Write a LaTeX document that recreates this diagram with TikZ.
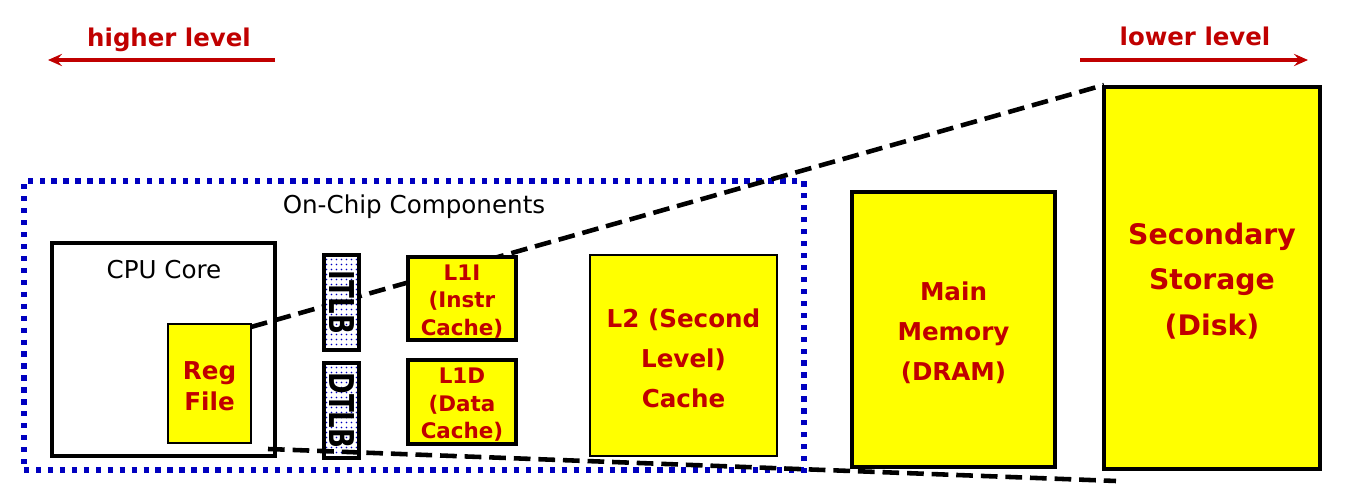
\documentclass[tikz,border=0pt]{standalone}
\usepackage{fontspec}
\setmainfont{DejaVu Sans}
\usetikzlibrary{patterns.meta,arrows.meta}
\definecolor{dkred}{HTML}{C00000}
\definecolor{chipblue}{HTML}{0000C0}
\definecolor{boxyellow}{HTML}{FFFF00}
\tikzdeclarepattern{
  name=tlbdots,
  type=uncolored,
  bounding box={(0pt,0pt) and (2.8pt,2.8pt)},
  tile size={(2.8pt,2.8pt)},
  code={\fill (1.4pt,1.4pt) circle[radius=0.5pt];}
}
\begin{document}
\begin{tikzpicture}[x=0.02cm,y=-0.02cm,
  chipbox/.style={draw=chipblue, line width=3pt, dash pattern=on 3pt off 3.8pt, inner sep=0pt},
  plainbox/.style={draw=black, line width=2.2pt, inner sep=0pt},
  ybox/.style={draw=black, fill=boxyellow, inner sep=0pt},
  ytext/.style={align=center, text=dkred, inner sep=0pt, yshift=-1.7pt},
  tlbbox/.style={draw=black, line width=2.4pt, inner sep=0pt, preaction={fill=white}, pattern=tlbdots, pattern color=chipblue},
  tlbtext/.style={rotate=-90, font=\fontsize{19.5pt}{19.5pt}\selectfont\bfseries},
  lbl/.style={font=\fontsize{14pt}{17pt}\selectfont},
  lvl/.style={text=dkred, anchor=base, font=\fontsize{13.9pt}{17pt}\selectfont\bfseries},
  lvlarrow/.style={draw=dkred, line width=2.1pt, -{Stealth[length=8pt,width=7pt,inset=3pt]}},
  zoomline/.style={draw=black, line width=2.6pt, dash pattern=on 9.5pt off 4.5pt}
]
\useasboundingbox (0,0) rectangle (1348,489);

% level indicators
\node[lvl] (hl) at (169,47) {higher level};
\node[lvl] (ll) at (1195,46) {lower level};
\coordinate (hlA) at (275,60);
\coordinate (hlB) at (48,60);
\coordinate (llA) at (1080,60);
\coordinate (llB) at (1308,60);
\draw[lvlarrow] (hlA) -- (hlB);
\draw[lvlarrow] (llA) -- (llB);

% on-chip region
\node[chipbox, minimum width=15.6cm, minimum height=5.78cm] (chip) at (414,325.5) {};
\node[lbl] (chiplabel) at (414,207) {On-Chip Components};

% CPU core
\node[plainbox, minimum width=4.46cm, minimum height=4.26cm] (cpu) at (163.5,349.5) {};
\node[lbl] (cpulabel) at (164,270) {CPU Core};
\node[ybox, line width=1.6pt, minimum width=1.66cm, minimum height=2.38cm] (reg) at (209.5,383.5) {};
\node[ytext, font=\fontsize{14pt}{17.6pt}\selectfont\bfseries] (regtext) at (reg.center) {Reg\\File};

% upper zoom line (behind the TLB and L1I boxes)
\coordinate (regTop) at (251,327);
\draw[zoomline] (regTop) -- (1104,85) coordinate (ssTop);

% TLBs
\node[tlbbox, minimum width=0.7cm, minimum height=1.9cm] (itlb) at (341.5,302.5) {};
\node[tlbtext] (itlbtext) at (itlb.center) {\scalebox{0.76}[1]{ITLB}};
\node[tlbbox, minimum width=0.7cm, minimum height=1.9cm] (dtlb) at (341.5,410.5) {};
\node[tlbtext] (dtlbtext) at (dtlb.center) {\scalebox{0.76}[1]{DTLB}};

% L1 caches
\node[ybox, line width=1.8pt, minimum width=2.16cm, minimum height=1.66cm] (l1i) at (462,298.5) {};
\node[ytext, font=\fontsize{12.2pt}{15.6pt}\selectfont\bfseries] (l1itext) at (l1i.center) {L1I\\(Instr\\Cache)};
\node[ybox, line width=1.8pt, minimum width=2.16cm, minimum height=1.68cm] (l1d) at (462,402) {};
\node[ytext, font=\fontsize{12.2pt}{15.6pt}\selectfont\bfseries] (l1dtext) at (l1d.center) {L1D\\(Data\\Cache)};

% L2
\node[ybox, line width=1.5pt, minimum width=3.74cm, minimum height=4.02cm] (l2) at (683.5,355.5) {};
\node[ytext, font=\fontsize{14pt}{22.7pt}\selectfont\bfseries] (l2text) at (l2.center) {L2 (Second\\Level)\\Cache};

% Main memory
\node[ybox, line width=2.1pt, minimum width=4.06cm, minimum height=5.5cm] (mm) at (953.5,329.5) {};
\node[ytext, font=\fontsize{14pt}{22.7pt}\selectfont\bfseries] (mmtext) at (mm.center) {Main\\Memory\\(DRAM)};

% Secondary storage
\node[ybox, line width=2.2pt, minimum width=4.32cm, minimum height=7.64cm] (ss) at (1212,278) {};
\node[ytext, font=\fontsize{16.1pt}{26pt}\selectfont\bfseries] (sstext) at (ss.center) {Secondary\\Storage\\(Disk)};

% lower zoom line (on top)
\coordinate (lowA) at (268,449);
\coordinate (lowB) at (1116,481);
\draw[zoomline] (lowA) -- (lowB);
\end{tikzpicture}
\end{document}
